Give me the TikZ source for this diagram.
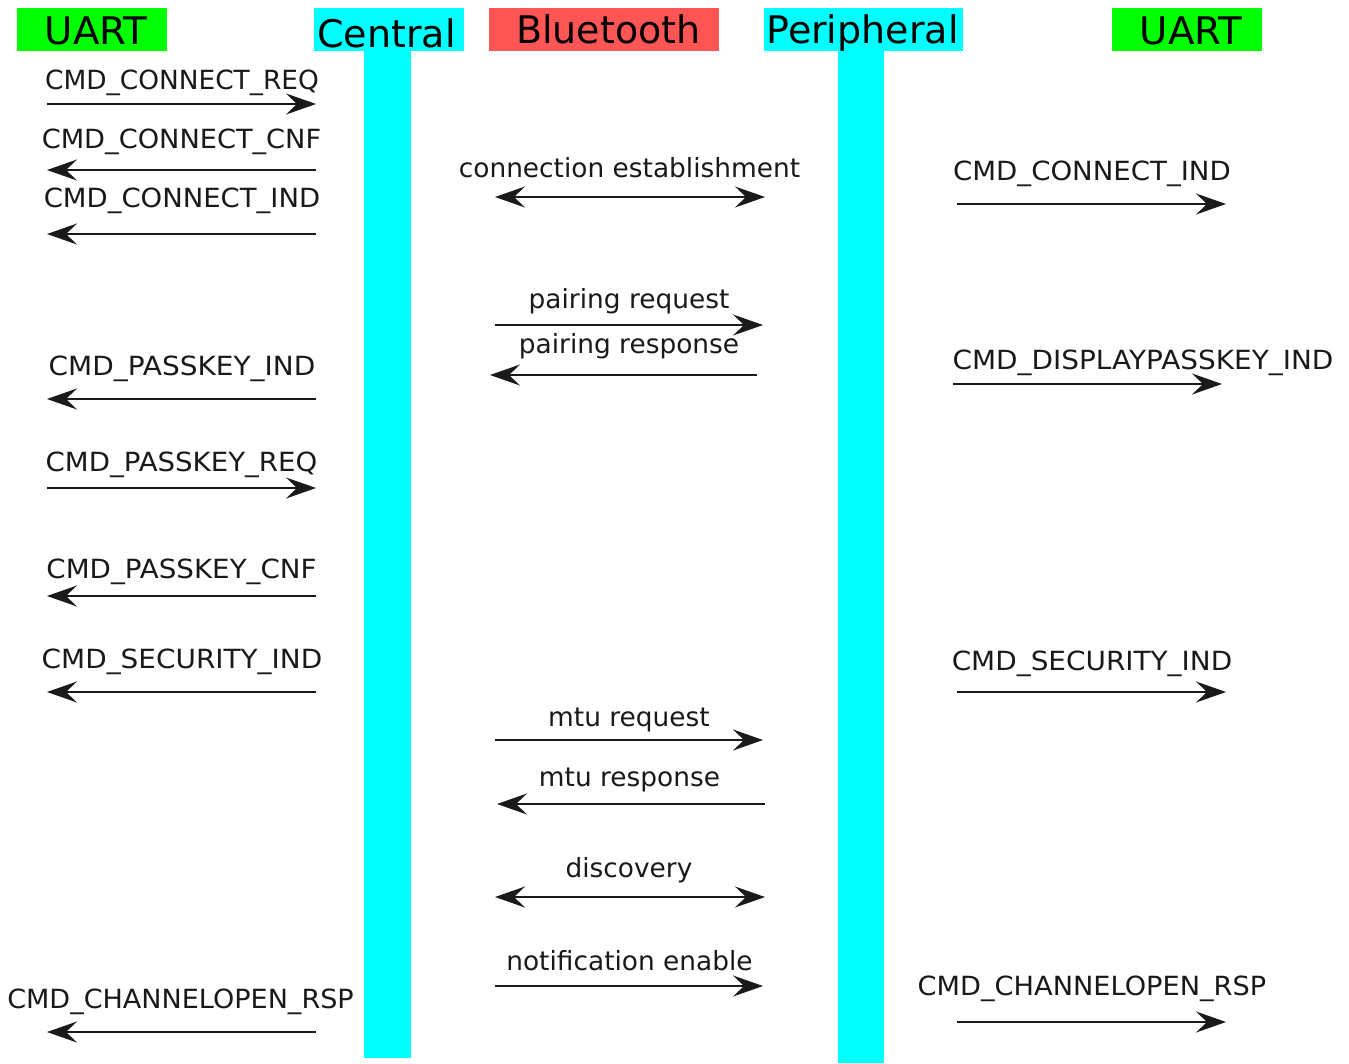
\documentclass[tikz,border=0pt]{standalone}
\usepackage{graphicx}
\usepackage{fontspec}
\setmainfont{DejaVu Sans}
\usetikzlibrary{arrows.meta}

\definecolor{uartgreen}{HTML}{00FF00}
\definecolor{lifecyan}{HTML}{00FFFF}
\definecolor{btred}{HTML}{FF5555}
\definecolor{msggray}{HTML}{1A1A1A}

\tikzset{
  headbox/.style={draw=none, inner sep=0pt, outer sep=0pt, anchor=north west},
  headtext/.style={inner sep=0pt, anchor=base, font=\fontsize{38}{42}\selectfont},
  lifeline/.style={fill=lifecyan, draw=none},
  tip/.tip={Stealth[length=30pt, width=21pt, inset=11pt]},
  msgline/.style={draw=msggray, line width=2.2pt, arrows={-tip}},
  msgback/.style={draw=msggray, line width=2.2pt, arrows={tip-}},
  msgboth/.style={draw=msggray, line width=2.2pt, arrows={tip-tip}},
  msglabel/.style={inner sep=0pt, anchor=base, text=black!90,
    font=\fontsize{26.4}{30}\selectfont},
}

% \seqmsg{name}{x start}{x end}{y}{line style}{label}{label baseline}{label x}{label stretch}
\newcommand{\seqmsg}[9]{%
  \coordinate (#1-s) at (#2,#4);
  \coordinate (#1-e) at (#3,#4);
  \draw[#5] (#1-s) -- (#1-e);
  \node[msglabel] (#1-lab) at (#8,#7) {\scalebox{#9}[1]{#6}};
}

\begin{document}
\begin{tikzpicture}[x=1pt, y=-1pt]
\useasboundingbox (0,0) rectangle (1349,1063);

% lifelines
\fill[lifeline] (364,51) rectangle (411,1058);
\fill[lifeline] (838,51) rectangle (884,1063);

% header boxes
\node[headbox, fill=uartgreen, minimum width=150pt, minimum height=43pt] (uartL-box) at (17,8) {};
\node[headbox, fill=lifecyan, minimum width=150pt, minimum height=43pt] (central-box) at (314,8) {};
\node[headbox, fill=btred, minimum width=230pt, minimum height=43pt] (bt-box) at (489,8) {};
\node[headbox, fill=lifecyan, minimum width=199pt, minimum height=43pt] (periph-box) at (764,8) {};
\node[headbox, fill=uartgreen, minimum width=150pt, minimum height=43pt] (uartR-box) at (1112,8) {};

\node[headtext] (uartL) at (96,44) {\scalebox{1.02}[1]{UART}};
\node[headtext] (central) at (386.5,47) {Central};
\node[headtext] (bt) at (608.5,43) {Bluetooth};
\node[headtext] (periph) at (862.5,43) {Peripheral};
\node[headtext] (uartR) at (1191,44) {\scalebox{1.02}[1]{UART}};

% UART <-> Central
\seqmsg{cr}{47}{316}{104}{msgline}{CMD\_CONNECT\_REQ}{89}{182}{1.0}
\seqmsg{cc}{47}{316}{170}{msgback}{CMD\_CONNECT\_CNF}{148}{181.5}{1.03}
\seqmsg{ci}{47}{316}{234}{msgback}{CMD\_CONNECT\_IND}{207}{182}{1.04}
\seqmsg{pi}{47}{316}{399}{msgback}{CMD\_PASSKEY\_IND}{375}{182}{1.06}
\seqmsg{pr}{47}{316}{488}{msgline}{CMD\_PASSKEY\_REQ}{471}{181.5}{1.046}
\seqmsg{pc}{47}{316}{596}{msgback}{CMD\_PASSKEY\_CNF}{578}{181.5}{1.05}
\seqmsg{si}{47}{316}{692}{msgback}{CMD\_SECURITY\_IND}{668}{182}{1.057}
\seqmsg{co}{47}{316}{1032}{msgback}{CMD\_CHANNELOPEN\_RSP}{1008}{180.5}{1.024}

% Central <-> Peripheral over the air
\seqmsg{ce}{495}{765}{197}{msgboth}{connection establishment}{177}{629.5}{1.0}
\seqmsg{preq}{495}{763}{325}{msgline}{pairing request}{308}{629}{1.0}
\seqmsg{pres}{490}{757}{375}{msgback}{pairing response}{353}{629}{1.0}
\seqmsg{mreq}{495}{763}{740}{msgline}{mtu request}{726}{629}{1.0}
\seqmsg{mres}{497}{765}{804}{msgback}{mtu response}{786}{629.5}{1.0}
\seqmsg{disc}{495}{765}{897}{msgboth}{discovery}{877}{629}{1.0}
\seqmsg{ne}{495}{763}{986}{msgline}{notification enable}{970}{629.5}{1.0}

% Peripheral -> UART
\seqmsg{rci}{957}{1226}{204}{msgline}{CMD\_CONNECT\_IND}{180}{1092}{1.045}
\seqmsg{dpk}{953}{1222}{384}{msgline}{CMD\_DISPLAYPASSKEY\_IND}{369}{1143}{1.058}
\seqmsg{rsi}{957}{1226}{692}{msgline}{CMD\_SECURITY\_IND}{670}{1092}{1.057}
\seqmsg{rco}{957}{1226}{1022}{msgline}{CMD\_CHANNELOPEN\_RSP}{995}{1092}{1.03}
\end{tikzpicture}
\end{document}
